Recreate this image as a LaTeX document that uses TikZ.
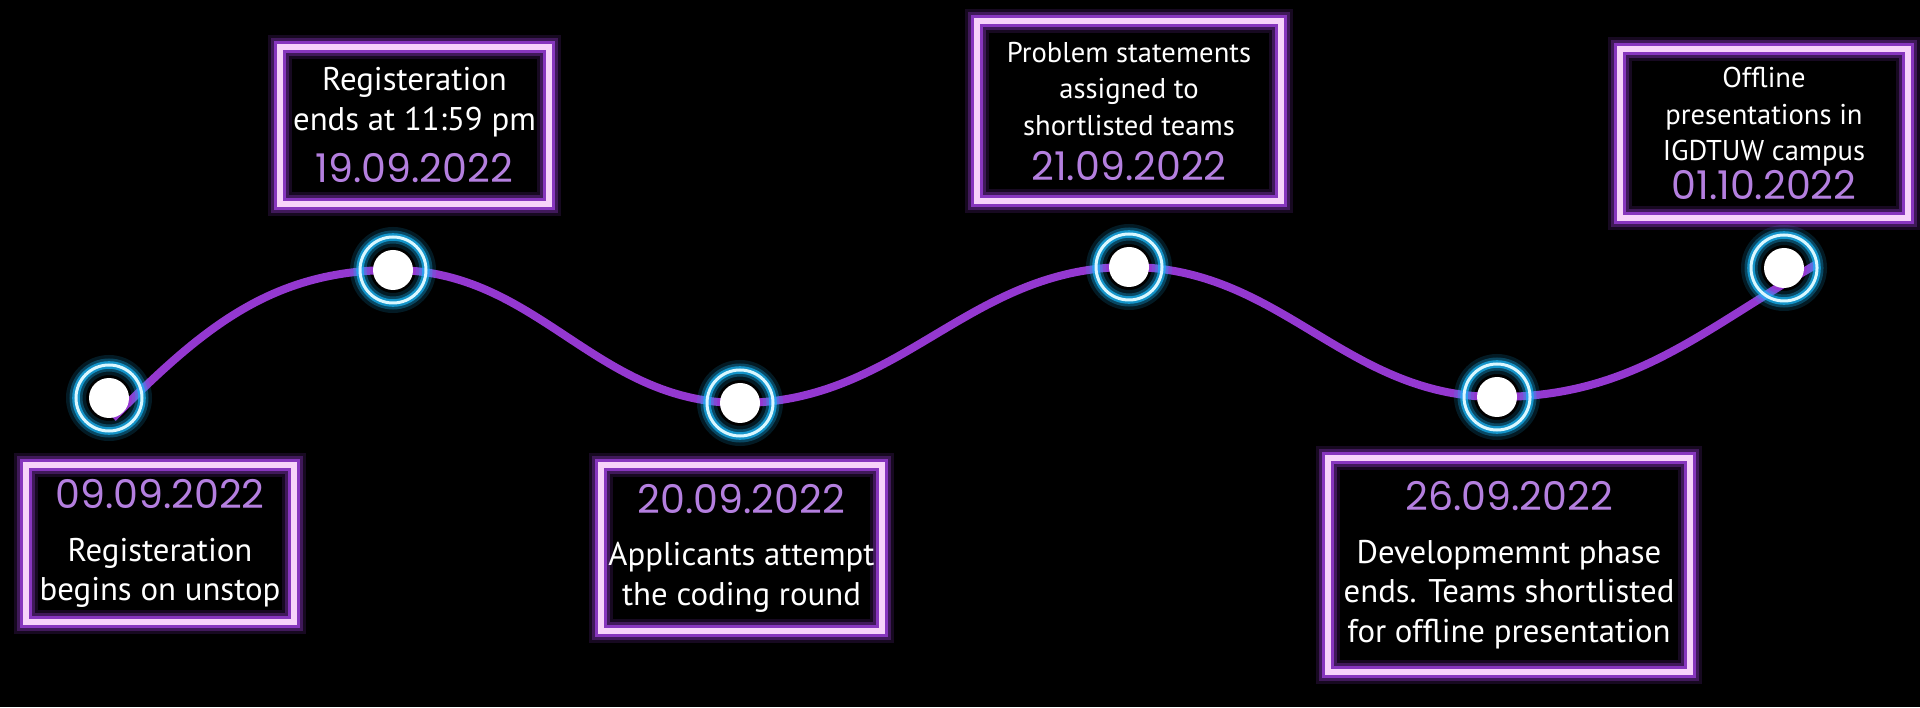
\documentclass[tikz,border=0pt]{standalone}
\usepackage{fontspec}
\setmainfont{PT Sans}
\newfontfamily\datefont{Poppins}
\definecolor{wavepurple}{HTML}{9438D0}
\definecolor{framepink}{HTML}{F7D3FA}
\definecolor{glowpurple}{HTML}{A040E0}
\definecolor{datepurple}{HTML}{B47FDF}
\definecolor{ringwhite}{HTML}{D9F7FF}
\definecolor{glowcyan}{HTML}{19B5F5}
\newcommand{\when}[1]{{\datefont\fontsize{19.8}{19.8}\selectfont\color{datepurple}#1}}
\tikzset{
  stagebox/.style={draw=framepink, line width=3pt, align=center, text=white, inner sep=0pt,
    font=\fontsize{16.4}{19.75}\selectfont,
    preaction={draw=glowpurple, line width=12pt, opacity=0.15},
    preaction={draw=glowpurple, line width=9pt, opacity=0.3},
    preaction={draw=glowpurple, line width=6pt, opacity=0.75}},
  smalltext/.style={font=\fontsize{14.3}{18.25}\selectfont},
  ringmark/.style={circle, draw=ringwhite, line width=1.5pt, minimum size=33pt, inner sep=0pt,
    preaction={draw=glowcyan, line width=10pt, opacity=0.15},
    preaction={draw=glowcyan, line width=6.5pt, opacity=0.3},
    preaction={draw=glowcyan, line width=3.8pt, opacity=0.7}},
  dotmark/.style={circle, fill=white, minimum size=20pt, inner sep=0pt},
  wave/.style={draw=wavepurple, line width=4pt}
}
\begin{document}
\begin{tikzpicture}[x=0.5pt,y=0.5pt]
\useasboundingbox (0,0) rectangle (1920,707);
\fill[black] (0,0) rectangle (1920,707);
% path of the timeline
\coordinate (start) at (113,289);
\coordinate (m1) at (109,309);
\coordinate (m2) at (393,437);
\coordinate (m3) at (740,304);
\coordinate (m4) at (1129,440);
\coordinate (m5) at (1497,310);
\coordinate (m6) at (1784,439);
\coordinate (finish) at (1817,443);
\draw[wave] (start) to[out=45,in=180] (m2) to[out=0,in=180] (m3) to[out=0,in=180] (m4)
  to[out=0,in=180] (m5) to[out=0,in=210] (finish);
% milestones
\node[ringmark] (ring1) at (m1) {};
\node[ringmark] (ring2) at (m2) {};
\node[ringmark] (ring3) at (m3) {};
\node[ringmark] (ring4) at (m4) {};
\node[ringmark] (ring5) at (m5) {};
\node[ringmark] (ring6) at (m6) {};
\node[dotmark] (dot1) at (m1) {};
\node[dotmark] (dot2) at (m2) {};
\node[dotmark] (dot3) at (m3) {};
\node[dotmark] (dot4) at (m4) {};
\node[dotmark] (dot5) at (m5) {};
\node[dotmark] (dot6) at (m6) {};
% boxes
\node[stagebox, minimum width=134pt, minimum height=78.5pt] (boxA) at (160,163.5)
  {\when{09.09.2022}\\[6.5pt]Registeration\\begins on unstop};
\node[stagebox, minimum width=134.5pt, minimum height=78.5pt] (boxB) at (414.5,581.5)
  {Registeration\\ends at 11:59 pm\\[6.5pt]\when{19.09.2022}};
\node[stagebox, minimum width=140.5pt, minimum height=83pt] (boxC) at (741.5,159)
  {\when{20.09.2022}\\[6.5pt]Applicants attempt\\the coding round};
\node[stagebox, smalltext, minimum width=152pt, minimum height=90pt] (boxD) at (1129,596)
  {Problem statements\\assigned to\\shortlisted teams\\[4.25pt]\when{21.09.2022}};
\node[stagebox, minimum width=181pt, minimum height=107pt] (boxE) at (1509,142)
  {\when{26.09.2022}\\[6.5pt]Developmemnt phase\\ends. Teams shortlisted\\for offline presentation};
\node[stagebox, smalltext, minimum width=144pt, minimum height=84.5pt] (boxF) at (1764,573.5)
  {Offline\\presentations in\\IGDTUW campus\\[1pt]\when{01.10.2022}};
\end{tikzpicture}
\end{document}
